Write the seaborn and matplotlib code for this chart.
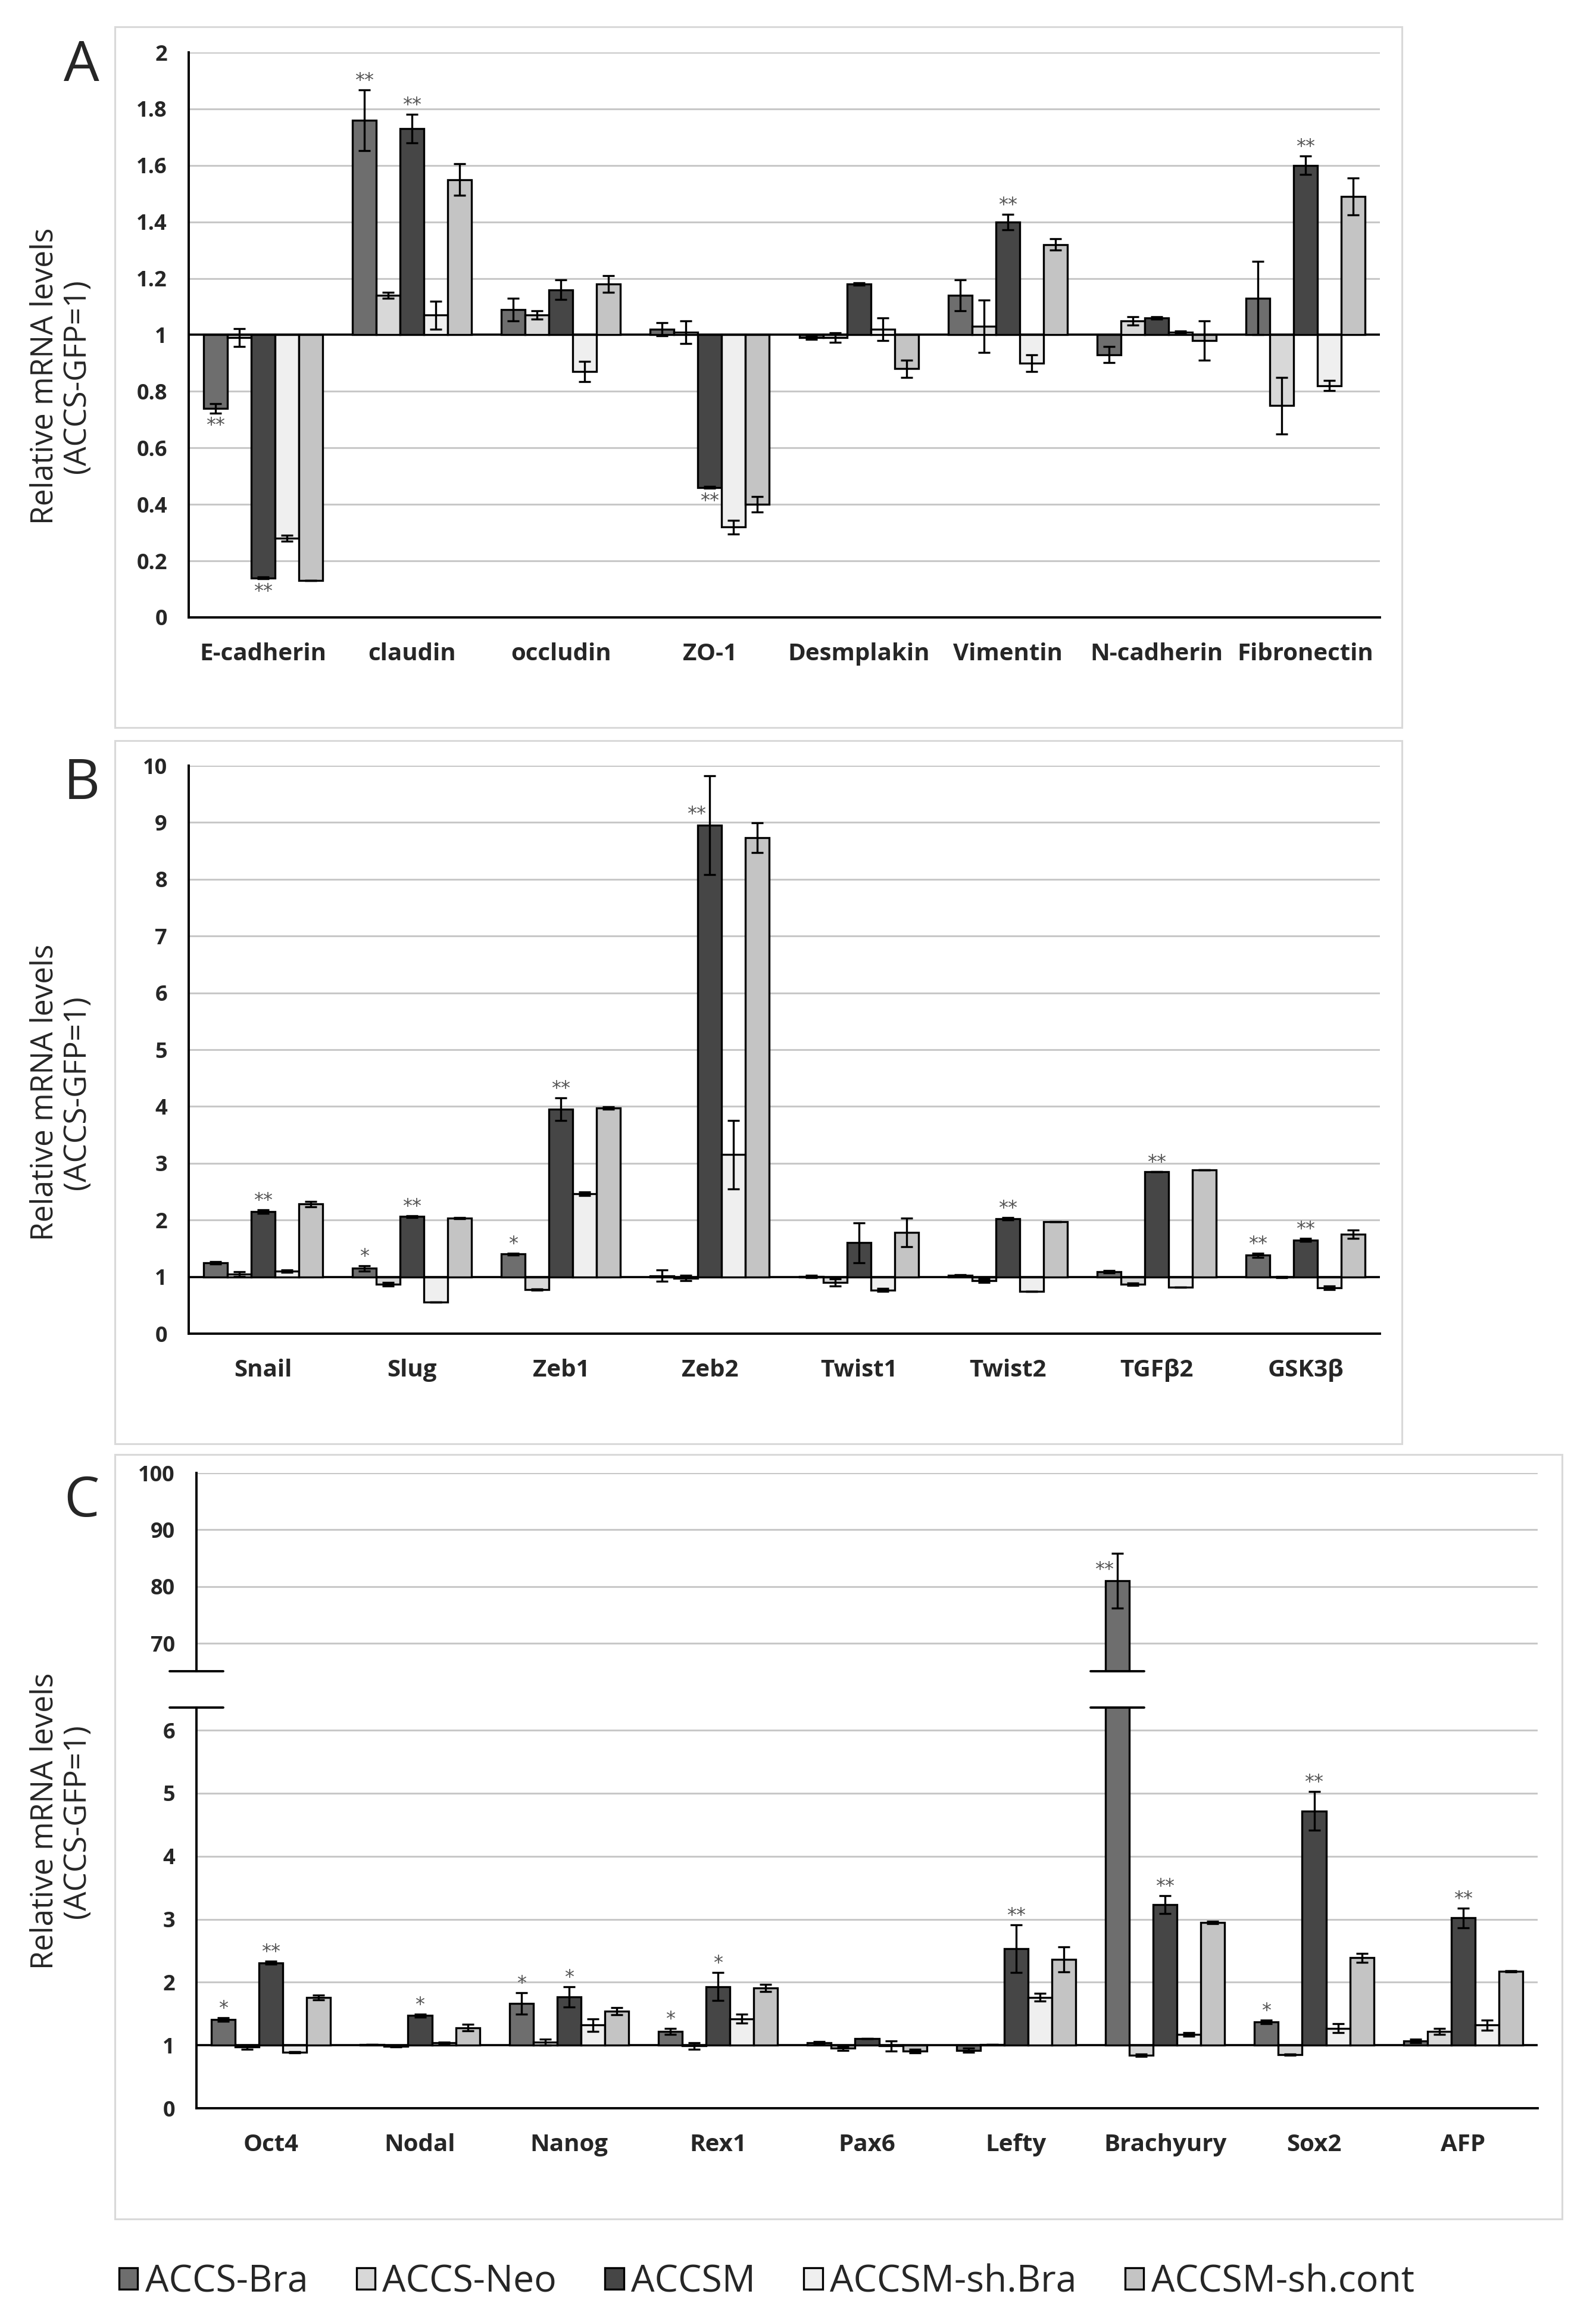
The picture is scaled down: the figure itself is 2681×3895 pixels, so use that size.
import numpy as np
import pandas as pd
import matplotlib
matplotlib.use('Agg')
import matplotlib.pyplot as plt
import seaborn as sns
from matplotlib.patches import Rectangle, Patch

groups = ['ACCS-Bra', 'ACCS-Neo', 'ACCSM', 'ACCSM-sh.Bra', 'ACCSM-sh.cont']
group_colors = ['#6e6e6e', '#d8d8d8', '#464646', '#efefef', '#c4c4c4']

# panel A: epithelial / mesenchymal markers
genes_a = ['E-cadherin', 'claudin', 'occludin', 'ZO-1', 'Desmplakin', 'Vimentin', 'N-cadherin', 'Fibronectin']
a_bra = [0.74, 1.76, 1.09, 1.02, 0.99, 1.14, 0.93, 1.13]
a_neo = [0.99, 1.14, 1.07, 1.01, 0.99, 1.03, 1.05, 0.75]
a_accsm = [0.14, 1.73, 1.16, 0.46, 1.18, 1.40, 1.06, 1.60]
a_shbra = [0.28, 1.07, 0.87, 0.32, 1.02, 0.90, 1.01, 0.82]
a_shcont = [0.13, 1.55, 1.18, 0.40, 0.88, 1.32, 0.98, 1.49]
a_bra_err = [0.017, 0.107, 0.04, 0.023, 0.006, 0.055, 0.028, 0.13]
a_neo_err = [0.032, 0.01, 0.015, 0.04, 0.017, 0.093, 0.015, 0.1]
a_accsm_err = [0.003, 0.05, 0.034, 0.003, 0.005, 0.027, 0.004, 0.033]
a_shbra_err = [0.01, 0.05, 0.036, 0.024, 0.04, 0.03, 0.003, 0.018]
a_shcont_err = [0.0, 0.056, 0.03, 0.027, 0.03, 0.02, 0.07, 0.066]
a_stars = [('E-cadherin', 'ACCS-Bra', '**', 'err'), ('E-cadherin', 'ACCSM', '**', 'err'),
           ('claudin', 'ACCS-Bra', '**', 'err'), ('claudin', 'ACCSM', '**', 'err'),
           ('ZO-1', 'ACCSM', '**', 'err'), ('Vimentin', 'ACCSM', '**', 'err'),
           ('Fibronectin', 'ACCSM', '**', 'err')]
a_yticks = [0, 0.2, 0.4, 0.6, 0.8, 1, 1.2, 1.4, 1.6, 1.8, 2]

# panel B: EMT transcription factors
genes_b = ['Snail', 'Slug', 'Zeb1', 'Zeb2', 'Twist1', 'Twist2', 'TGFβ2', 'GSK3β']
b_bra = [1.25, 1.15, 1.40, 1.02, 1.01, 1.03, 1.09, 1.38]
b_neo = [1.05, 0.87, 0.78, 0.98, 0.90, 0.93, 0.87, 1.00]
b_accsm = [2.15, 2.06, 3.95, 8.95, 1.60, 2.02, 2.85, 1.65]
b_shbra = [1.10, 0.56, 2.46, 3.15, 0.77, 0.74, 0.82, 0.81]
b_shcont = [2.28, 2.03, 3.97, 8.73, 1.78, 1.97, 2.88, 1.75]
b_bra_err = [0.02, 0.05, 0.02, 0.1, 0.02, 0.01, 0.02, 0.04]
b_neo_err = [0.04, 0.03, 0.01, 0.05, 0.06, 0.03, 0.02, 0.01]
b_accsm_err = [0.03, 0.02, 0.2, 0.87, 0.35, 0.02, 0.0, 0.03]
b_shbra_err = [0.02, 0.0, 0.03, 0.6, 0.03, 0.0, 0.0, 0.03]
b_shcont_err = [0.05, 0.01, 0.02, 0.26, 0.25, 0.0, 0.0, 0.07]
b_stars = [('Snail', 'ACCSM', '**', 'err'), ('Slug', 'ACCS-Bra', '*', 'err'), ('Slug', 'ACCSM', '**', 'err'),
           ('Zeb1', 'ACCS-Bra', '*', 'err'), ('Zeb1', 'ACCSM', '**', 'err'), ('Zeb2', 'ACCSM', '**', 'left'),
           ('Twist2', 'ACCSM', '**', 'err'), ('TGFβ2', 'ACCSM', '**', 'err'),
           ('GSK3β', 'ACCS-Bra', '**', 'err'), ('GSK3β', 'ACCSM', '**', 'err')]
b_yticks = [0, 1, 2, 3, 4, 5, 6, 7, 8, 9, 10]

# panel C: stemness / lineage markers
genes_c = ['Oct4', 'Nodal', 'Nanog', 'Rex1', 'Pax6', 'Lefty', 'Brachyury', 'Sox2', 'AFP']
c_bra = [1.41, 1.01, 1.66, 1.22, 1.04, 0.92, 81.0, 1.37, 1.07]
c_neo = [0.97, 0.98, 1.05, 0.99, 0.95, 1.01, 0.84, 0.85, 1.22]
c_accsm = [2.31, 1.47, 1.77, 1.93, 1.11, 2.53, 3.23, 4.72, 3.02]
c_shbra = [0.89, 1.04, 1.32, 1.42, 0.99, 1.76, 1.17, 1.27, 1.32]
c_shcont = [1.76, 1.28, 1.54, 1.91, 0.91, 2.36, 2.95, 2.39, 2.17]
c_bra_err = [0.03, 0.0, 0.17, 0.05, 0.02, 0.03, 4.8, 0.03, 0.03]
c_neo_err = [0.03, 0.01, 0.05, 0.05, 0.03, 0.0, 0.02, 0.01, 0.05]
c_accsm_err = [0.02, 0.02, 0.16, 0.22, 0.0, 0.38, 0.14, 0.31, 0.16]
c_shbra_err = [0.01, 0.01, 0.1, 0.07, 0.08, 0.06, 0.03, 0.07, 0.08]
c_shcont_err = [0.04, 0.05, 0.06, 0.06, 0.03, 0.2, 0.02, 0.07, 0.01]
c_stars = [('Oct4', 'ACCS-Bra', '*', 'err'), ('Oct4', 'ACCSM', '**', 'err'), ('Nodal', 'ACCSM', '*', 'err'),
           ('Nanog', 'ACCS-Bra', '*', 'err'), ('Nanog', 'ACCSM', '*', 'err'), ('Rex1', 'ACCS-Bra', '*', 'err'),
           ('Rex1', 'ACCSM', '*', 'err'), ('Lefty', 'ACCSM', '**', 'err'), ('Brachyury', 'ACCS-Bra', '**', 'left'),
           ('Brachyury', 'ACCSM', '**', 'err'), ('Sox2', 'ACCS-Bra', '*', 'err'), ('Sox2', 'ACCSM', '**', 'err'),
           ('AFP', 'ACCSM', '**', 'err')]
c_yticks_low = [0, 1, 2, 3, 4, 5, 6]
c_yticks_high = [70, 80, 90, 100]

ylabel_text = 'Relative mRNA levels\n(ACCS-GFP=1)'

sns.set_style('white')
plt.rcParams['font.family'] = ['Open Sans', 'DejaVu Sans']

W, H = 2681, 3895
fig = plt.figure(figsize=(W / 100, H / 100), dpi=100)


def px_rect(x0, y0, x1, y1):
    # pixel box (top-left origin) -> figure fraction [l, b, w, h]
    return [x0 / W, 1 - y1 / H, (x1 - x0) / W, (y1 - y0) / H]


def long_df(genes, vals):
    rows = []
    for g, v in zip(groups, vals):
        for gene, x in zip(genes, v):
            rows.append((gene, g, x))
    df = pd.DataFrame(rows, columns=['gene', 'group', 'value'])
    df['shift'] = df['value'] - 1
    return df


def draw_bars(ax, genes, vals, errs, stars, ylim, yticks, show_x=True, bottom_spine=True):
    df = long_df(genes, vals)
    sns.barplot(data=df, x='gene', y='shift', hue='group', order=genes, hue_order=groups,
                palette=group_colors, saturation=1, errorbar=None, bottom=1,
                edgecolor='black', linewidth=2.4, legend=False, ax=ax, zorder=3)
    bars = list(ax.containers)
    for j, cont in enumerate(bars):
        xs = [p.get_x() + p.get_width() / 2 for p in cont]
        ax.errorbar(xs, vals[j], yerr=errs[j], fmt='none', ecolor='black',
                    elinewidth=2.4, capsize=7, capthick=2.4, zorder=4)
    for gene, grp, txt, mode in stars:
        i = genes.index(gene)
        j = groups.index(grp)
        p = bars[j][i]
        x = p.get_x() + p.get_width() / 2
        v = vals[j][i]
        e = errs[j][i]
        if mode == 'left':
            ax.annotate(txt, (x, v), xytext=(-16, 2), textcoords='offset points',
                        ha='center', va='bottom', fontsize=23, color='#555555',
                        family='DejaVu Sans', zorder=5)
        elif v >= 1:
            ax.annotate(txt, (x, v + e), xytext=(0, 0), textcoords='offset points',
                        ha='center', va='bottom', fontsize=23, color='#555555',
                        family='DejaVu Sans', zorder=5)
        else:
            ax.annotate(txt, (x, v - e), xytext=(0, -4), textcoords='offset points',
                        ha='center', va='top', fontsize=23, color='#555555',
                        family='DejaVu Sans', zorder=5)
    ax.axhline(1, color='black', lw=2.6, zorder=2.9)
    ax.set_ylim(*ylim)
    ax.set_xlim(-0.5, len(genes) - 0.5)
    ax.set_yticks(yticks)
    ax.set_yticklabels([f'{t:g}' for t in yticks], fontsize=26, fontweight='bold')
    ax.grid(axis='y', color='#c8c8c8', lw=2.2)
    ax.grid(axis='x', visible=False)
    ax.set_axisbelow(True)
    ax.set_xlabel('')
    ax.set_ylabel('')
    ax.tick_params(axis='y', length=0, pad=26)
    ax.tick_params(axis='x', length=0, pad=30)
    if show_x:
        ax.set_xticks(range(len(genes)))
        ax.set_xticklabels(genes, fontsize=29, fontweight='bold')
    else:
        ax.set_xticks([])
    for s in ['top', 'right']:
        ax.spines[s].set_visible(False)
    ax.spines['left'].set_color('black')
    ax.spines['left'].set_linewidth(2.8)
    ax.spines['bottom'].set_color('black')
    ax.spines['bottom'].set_linewidth(2.8)
    if not bottom_spine:
        ax.spines['bottom'].set_visible(False)
    ax.set_facecolor('none')
    return bars


# panel frames
for box in [(193, 45, 2355, 1222), (193, 1244, 2355, 2425), (193, 2443, 2624, 3727)]:
    l, b, w, h = px_rect(*box)
    fig.add_artist(Rectangle((l, b), w, h, transform=fig.transFigure, fill=False,
                             edgecolor='#d9d9d9', lw=2.2))

ax_a = fig.add_axes(px_rect(317, 88, 2318, 1037))
draw_bars(ax_a, genes_a, [a_bra, a_neo, a_accsm, a_shbra, a_shcont],
          [a_bra_err, a_neo_err, a_accsm_err, a_shbra_err, a_shcont_err], a_stars, (0, 2), a_yticks)

ax_b = fig.add_axes(px_rect(317, 1286, 2318, 2240))
draw_bars(ax_b, genes_b, [b_bra, b_neo, b_accsm, b_shbra, b_shcont],
          [b_bra_err, b_neo_err, b_accsm_err, b_shbra_err, b_shcont_err], b_stars, (0, 10), b_yticks)

c_vals = [c_bra, c_neo, c_accsm, c_shbra, c_shcont]
c_errs = [c_bra_err, c_neo_err, c_accsm_err, c_shbra_err, c_shcont_err]
ax_ct = fig.add_axes(px_rect(330, 2474, 2583, 2807))
bars_top = draw_bars(ax_ct, genes_c, c_vals, c_errs,
                     [s for s in c_stars if s[0] == 'Brachyury' and s[1] == 'ACCS-Bra'],
                     (65.07, 100), c_yticks_high, show_x=False, bottom_spine=False)
ax_cb = fig.add_axes(px_rect(330, 2868, 2583, 3541))
bars_low = draw_bars(ax_cb, genes_c, c_vals, c_errs,
                     [s for s in c_stars if not (s[0] == 'Brachyury' and s[1] == 'ACCS-Bra')],
                     (0, 6.36), c_yticks_low)

# axis break marks: on the y axis and across the Brachyury bar
bra_bar = bars_low[groups.index('ACCS-Bra')][genes_c.index('Brachyury')]
bra_x = bra_bar.get_x() + bra_bar.get_width() / 2
for ax, yy in [(ax_ct, 0), (ax_cb, 1)]:
    tr = ax.get_xaxis_transform()
    for xc in [-0.5, bra_x]:
        ax.plot([xc - 0.18, xc + 0.18], [yy, yy], color='black', lw=2.8,
                transform=tr, clip_on=False, zorder=6)

# panel letters and y labels
for letter, ycen in [('A', 112), ('B', 1318), ('C', 2522)]:
    fig.text(137 / W, 1 - ycen / H, letter, fontsize=68, ha='center', va='center')
for ycen in [632, 1835, 3059]:
    fig.text(102 / W, 1 - ycen / H, ylabel_text, fontsize=37, rotation=90,
             ha='center', va='center', multialignment='center', linespacing=1.1)

handles = [Patch(facecolor=c, edgecolor='black', lw=2.4) for c in group_colors]
fig.legend(handles, groups, loc='center left', bbox_to_anchor=(200 / W, 1 - 3833 / H),
           ncol=5, frameon=False, fontsize=45, handlelength=0.5, handleheight=0.5,
           handletextpad=0.2, columnspacing=1.3, borderpad=0, borderaxespad=0)

fig.savefig('out.png', dpi=100, facecolor='white')
